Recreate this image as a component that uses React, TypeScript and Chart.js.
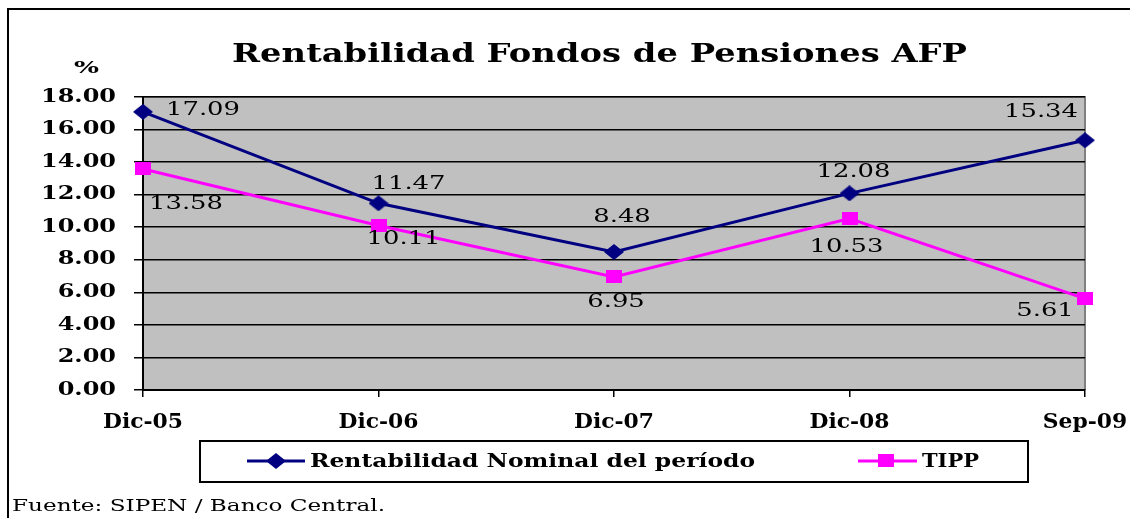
import React, { useEffect, useRef } from "react";
import { Chart, registerables } from "chart.js";

Chart.register(...registerables);

const categories = ["Dic-05", "Dic-06", "Dic-07", "Dic-08", "Sep-09"];
const rentabilidadNominal = [17.09, 11.47, 8.48, 12.08, 15.34];
const tipp = [13.58, 10.11, 6.95, 10.53, 5.61];
const seriesNames = ["Rentabilidad Nominal del período", "TIPP"];
const yMin = 0;
const yMax = 18;
const yStep = 2;
const titleText = "Rentabilidad Fondos de Pensiones AFP";
const unitLabel = "%";
const sourceText = "Fuente: SIPEN / Banco Central.";

const NAVY = "#000080";
const MAGENTA = "#FF00FF";
const SERIF = '"DejaVu Serif", "Liberation Serif", serif';

// label placement relative to each point (text centre)
const labelOffsets: number[][][] = [
  [[60, -1], [30, -19], [8, -35], [4, -21], [-44, -28]],
  [[43, 35], [25, 14], [2, 25], [-3, 29], [-40, 13]],
];

function makeDiamond(w: number, h: number, color: string) {
  const c = document.createElement("canvas");
  c.width = w;
  c.height = h;
  const x = c.getContext("2d")!;
  x.fillStyle = color;
  x.beginPath();
  x.moveTo(w / 2, 0);
  x.lineTo(w, h / 2);
  x.lineTo(w / 2, h);
  x.lineTo(0, h / 2);
  x.closePath();
  x.fill();
  return c;
}

function makeRect(w: number, h: number, color: string) {
  const c = document.createElement("canvas");
  c.width = w;
  c.height = h;
  const x = c.getContext("2d")!;
  x.fillStyle = color;
  x.fillRect(0, 0, w, h);
  return c;
}

// draw text horizontally stretched by sx
function drawWide(ctx: any, text: string, x: number, y: number, sx: number, align: string) {
  ctx.textAlign = "left";
  const w = ctx.measureText(text).width * sx;
  const x0 = align === "left" ? x : align === "center" ? x - w / 2 : x - w;
  ctx.save();
  ctx.translate(x0, y);
  ctx.scale(sx, 1);
  ctx.fillText(text, 0, 0);
  ctx.restore();
}

function stretchFor(ctx: any, sample: string, target: number) {
  ctx.textAlign = "left";
  return target / ctx.measureText(sample).width;
}

export default function App() {
  const ref = useRef<HTMLCanvasElement>(null);

  useEffect(() => {
    const canvas = ref.current;
    if (!canvas) return;
    const diamond = makeDiamond(20, 16, NAVY);
    const square = makeRect(16, 13, MAGENTA);

    const decor = {
      id: "decor",
      beforeDraw(chart: any) {
        const { ctx, chartArea: a } = chart;
        ctx.save();
        ctx.fillStyle = "#ffffff";
        ctx.fillRect(0, 0, chart.width, chart.height);
        ctx.fillStyle = "#C0C0C0";
        ctx.fillRect(a.left, a.top, a.right - a.left, a.bottom - a.top);
        ctx.strokeStyle = "#808080";
        ctx.lineWidth = 2;
        ctx.beginPath();
        ctx.moveTo(a.left, a.top);
        ctx.lineTo(a.right, a.top);
        ctx.lineTo(a.right, a.bottom);
        ctx.stroke();
        ctx.restore();
      },
      afterDatasetsDraw(chart: any) {
        const ctx = chart.ctx;
        ctx.save();
        ctx.font = `normal 18px ${SERIF}`;
        ctx.fillStyle = "#000";
        ctx.textBaseline = "middle";
        const sx = stretchFor(ctx, "17.09", 74);
        chart.data.datasets.forEach((ds: any, i: number) => {
          const meta = chart.getDatasetMeta(i);
          meta.data.forEach((pt: any, j: number) => {
            const v = ds.data[j] as number;
            const [dx, dy] = labelOffsets[i][j];
            drawWide(ctx, v.toFixed(2), pt.x + dx, pt.y + dy, sx, "center");
          });
        });
        ctx.restore();
      },
      afterDraw(chart: any) {
        const ctx = chart.ctx;
        ctx.save();
        ctx.fillStyle = "#000";
        // axis tick labels
        const ys = chart.scales.y;
        ctx.font = `bold 18px ${SERIF}`;
        ctx.textBaseline = "middle";
        const sxY = stretchFor(ctx, "18.00", 75);
        ys.ticks.forEach((t: any, i: number) => {
          drawWide(ctx, String(t.label), 116, ys.getPixelForTick(i), sxY, "right");
        });
        const xs = chart.scales.x;
        ctx.font = `bold 20px ${SERIF}`;
        ctx.textBaseline = "alphabetic";
        const sxX = stretchFor(ctx, "Dic-05", 80);
        xs.ticks.forEach((t: any, i: number) => {
          drawWide(ctx, String(t.label), xs.getPixelForTick(i), 428, sxX, "center");
        });
        // outer frame
        ctx.strokeStyle = "#000";
        ctx.lineWidth = 2;
        ctx.beginPath();
        ctx.moveTo(8, 530);
        ctx.lineTo(8, 9);
        ctx.lineTo(1140, 9);
        ctx.stroke();
        // title
        ctx.font = `bold 26px ${SERIF}`;
        drawWide(ctx, titleText, 232, 62, stretchFor(ctx, titleText, 735), "left");
        // unit
        ctx.font = `bold 17px ${SERIF}`;
        drawWide(ctx, unitLabel, 74, 73, stretchFor(ctx, unitLabel, 25), "left");
        // legend box
        ctx.lineWidth = 2;
        ctx.strokeRect(200, 441, 828, 41);
        ctx.lineWidth = 3;
        ctx.strokeStyle = NAVY;
        ctx.beginPath();
        ctx.moveTo(247, 461);
        ctx.lineTo(305, 461);
        ctx.stroke();
        ctx.drawImage(diamond, 276 - 10, 461 - 8);
        ctx.strokeStyle = MAGENTA;
        ctx.beginPath();
        ctx.moveTo(858, 461);
        ctx.lineTo(917, 461);
        ctx.stroke();
        ctx.drawImage(square, 886 - 8, 460 - 6);
        ctx.font = `bold 18px ${SERIF}`;
        drawWide(ctx, seriesNames[0], 310, 467, stretchFor(ctx, seriesNames[0], 445), "left");
        drawWide(ctx, seriesNames[1], 922, 467, stretchFor(ctx, seriesNames[1], 57), "left");
        // source
        ctx.font = `normal 17px ${SERIF}`;
        drawWide(ctx, sourceText, 12, 511, stretchFor(ctx, sourceText, 373), "left");
        ctx.restore();
      },
    };

    const hidden = "rgba(0,0,0,0)";
    const tickFont = { family: SERIF, weight: "bold" as const, size: 18 };

    const chart = new Chart(canvas, {
      type: "line",
      data: {
        labels: categories,
        datasets: [
          {
            label: seriesNames[0],
            data: rentabilidadNominal,
            borderColor: NAVY,
            backgroundColor: NAVY,
            borderWidth: 3,
            pointStyle: diamond as any,
            pointRadius: 10,
            tension: 0,
            fill: false,
          },
          {
            label: seriesNames[1],
            data: tipp,
            borderColor: MAGENTA,
            backgroundColor: MAGENTA,
            borderWidth: 3,
            pointStyle: square as any,
            pointRadius: 10,
            tension: 0,
            fill: false,
          },
        ],
      },
      options: {
        animation: false,
        responsive: false,
        maintainAspectRatio: false,
        events: [],
        layout: { padding: { top: 97, left: 0, right: 45, bottom: 83 } },
        plugins: {
          legend: { display: false },
          title: { display: false },
          tooltip: { enabled: false },
        },
        scales: {
          x: {
            offset: false,
            grid: {
              display: true,
              drawOnChartArea: false,
              drawTicks: true,
              tickLength: 7,
              color: "#000",
              lineWidth: 1.5,
            },
            border: { display: true, color: "#000", width: 2 },
            ticks: {
              color: hidden,
              font: tickFont,
              padding: 10,
              maxRotation: 0,
              autoSkip: false,
            },
            afterFit(s: any) {
              s.height = 45;
              s.paddingLeft = 0;
              s.paddingRight = 0;
            },
          },
          y: {
            min: yMin,
            max: yMax,
            ticks: {
              stepSize: yStep,
              callback: (v: any) => Number(v).toFixed(2),
              color: hidden,
              font: tickFont,
              padding: 11,
            },
            grid: { color: "#000", lineWidth: 1.5, tickLength: 9 },
            border: { display: true, color: "#000", width: 2 },
            afterFit(s: any) {
              s.width = 143;
              s.paddingTop = 0;
              s.paddingBottom = 0;
            },
          },
        },
      },
      plugins: [decor],
    });

    return () => chart.destroy();
  }, []);

  return (
    <div style={{ position: "absolute", left: 0, top: 0, width: 1130, height: 518 }}>
      <canvas ref={ref} width={1130} height={518} style={{ display: "block" }} />
    </div>
  );
}
